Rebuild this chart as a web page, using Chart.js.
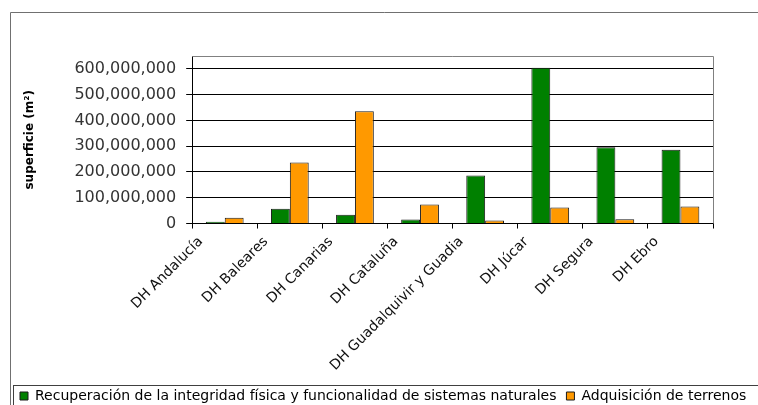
<!DOCTYPE html>
<html>
<head>
<meta charset="utf-8">
<script src="https://cdn.jsdelivr.net/npm/chart.js@4/dist/chart.umd.min.js"></script>
<style>
  body { margin: 0; background: #fff; }
  canvas { display: block; }
</style>
</head>
<body>
<canvas id="superficie" width="758" height="405"></canvas>
<script>
// datos (m2)
var categorias = ['DH Andalucía', 'DH Baleares', 'DH Canarias', 'DH Cataluña',
                  'DH Guadalquivir y Guadia', 'DH Júcar', 'DH Segura', 'DH Ebro'];
var recuperacion = [7000000, 57000000, 34000000, 16000000, 186000000, 604000000, 296000000, 286000000];
var adquisicion = [22000000, 237000000, 436000000, 74000000, 12000000, 62000000, 17000000, 66000000];
var ticksY = [0, 100000000, 200000000, 300000000, 400000000, 500000000, 600000000];
var nombres = ['Recuperación de la integridad física y funcionalidad de sistemas naturales',
               'Adquisición de terrenos'];

Chart.defaults.font.family = 'DejaVu Sans';
Chart.defaults.color = '#222';

// marcos grises del grafico original (borde exterior, caja de la leyenda, borde del area)
var marcos = {
  id: 'marcos',
  afterDraw: function(chart) {
    var ctx = chart.ctx, a = chart.chartArea;
    ctx.save();
    ctx.lineWidth = 1;
    ctx.strokeStyle = '#808080';
    ctx.beginPath();
    ctx.moveTo(a.left, a.top + 0.5);
    ctx.lineTo(a.right + 0.5, a.top + 0.5);
    ctx.lineTo(a.right + 0.5, a.bottom);
    ctx.stroke();
    ctx.strokeStyle = '#707070';
    ctx.beginPath();
    ctx.moveTo(10.5, chart.height);
    ctx.lineTo(10.5, 12.5);
    ctx.lineTo(chart.width, 12.5);
    ctx.stroke();
    ctx.strokeStyle = '#404040';
    ctx.strokeRect(13.5, 385.5, chart.width, 40);
    ctx.restore();
  }
};

var config = {
  type: 'bar',
  data: {
    labels: categorias,
    datasets: [{
      label: nombres[0],
      data: recuperacion,
      backgroundColor: '#008000',
      borderColor: '#1a1a1a',
      borderWidth: 1
    }, {
      label: nombres[1],
      data: adquisicion,
      backgroundColor: '#FF9900',
      borderColor: '#1a1a1a',
      borderWidth: 1
    }]
  },
  options: {
    responsive: false,
    animation: false,
    categoryPercentage: 0.58,
    barPercentage: 1.0,
    layout: { padding: { top: 56, left: 10, right: 0, bottom: -8 } },
    plugins: {
      legend: {
        position: 'bottom',
        align: 'start',
        labels: {
          boxWidth: 8,
          boxHeight: 8,
          padding: 10,
          color: '#000',
          font: { size: 14 }
        }
      },
      tooltip: { enabled: false }
    },
    scales: {
      x: {
        grid: { drawOnChartArea: false, drawTicks: true, tickLength: 5, color: '#000', offset: true },
        border: { color: '#000' },
        ticks: {
          minRotation: 45,
          maxRotation: 45,
          autoSkip: false,
          labelOffset: -24,
          padding: 5,
          color: '#111',
          font: { size: 14 }
        }
      },
      y: {
        min: 0,
        max: 650000000,
        afterBuildTicks: function(axis) {
          axis.ticks = ticksY.map(function(v) { return { value: v }; });
        },
        grid: { color: '#000', tickLength: 6 },
        border: { color: '#000' },
        ticks: {
          padding: 10,
          color: '#333',
          font: { size: 16 },
          callback: function(v) { return v.toLocaleString('en-US'); }
        },
        title: {
          display: true,
          text: 'superficie (m²)',
          color: '#000',
          font: { size: 12, weight: 'bold' },
          padding: { top: 13, bottom: 27 }
        }
      },
      derecha: {
        type: 'linear',
        position: 'right',
        display: true,
        grid: { display: false },
        border: { display: false },
        ticks: { display: false },
        afterFit: function(axis) { axis.width = 45; }
      }
    }
  },
  plugins: [marcos]
};

window.myBar = new Chart(document.getElementById('superficie'), config);
</script>
</body>
</html>
